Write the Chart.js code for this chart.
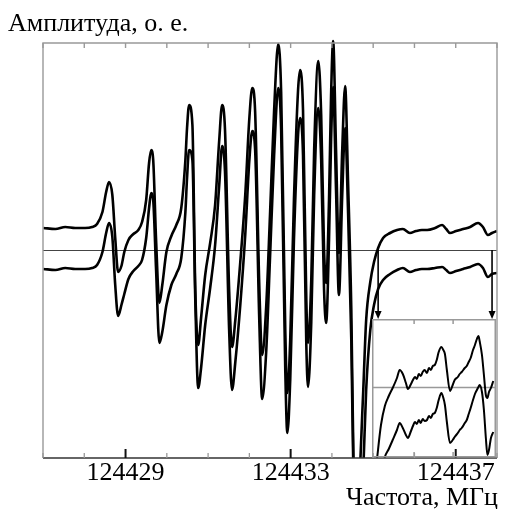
<!DOCTYPE html>
<html>
<head>
<meta charset="utf-8">
<script src="https://cdn.jsdelivr.net/npm/chart.js@4.4.0/dist/chart.umd.min.js"></script>
<style>
  body { margin: 0; background: #fff; }
  #wrap { position: relative; width: 505px; height: 509px; }
  #main { position: absolute; left: 0; top: 0; }
  #inset { position: absolute; left: 372px; top: 319px; }
</style>
</head>
<body>
<div id="wrap">
  <canvas id="main" width="505" height="509"></canvas>
  <canvas id="inset" width="124" height="139"></canvas>
</div>
<script>
// частота, МГц
const freq = [
  124427.01, 124427.30, 124427.54, 124427.78, 124428.02, 124428.19, 124428.31, 124428.44, 124428.53, 124428.60,
  124428.68, 124428.75, 124428.82, 124428.90, 124428.97, 124429.07, 124429.19, 124429.31, 124429.40, 124429.50,
  124429.57, 124429.62, 124429.67, 124429.74, 124429.82, 124429.89, 124429.99, 124430.11, 124430.23, 124430.35,
  124430.45, 124430.49, 124430.54, 124430.62, 124430.69, 124430.76, 124430.83, 124430.93, 124431.05, 124431.17,
  124431.27, 124431.34, 124431.41, 124431.51, 124431.58, 124431.66, 124431.78, 124431.90, 124432.00, 124432.07,
  124432.14, 124432.24, 124432.31, 124432.41, 124432.50, 124432.60, 124432.70, 124432.77, 124432.87, 124432.92,
  124432.99, 124433.08, 124433.18, 124433.23, 124433.30, 124433.38, 124433.42, 124433.50, 124433.57, 124433.67,
  124433.74, 124433.81, 124433.86, 124433.93, 124433.98, 124434.03, 124434.10, 124434.17, 124434.25, 124434.32,
  124434.39, 124434.47, 124434.54, 124434.61, 124434.68, 124434.76, 124434.83, 124434.93, 124435.02, 124435.12,
  124435.24, 124435.41, 124435.58, 124435.72, 124435.89, 124436.04, 124436.18, 124436.31, 124436.50, 124436.67,
  124436.77, 124436.86, 124437.01, 124437.18, 124437.35, 124437.54, 124437.66, 124437.78, 124437.88, 124438.00
];
// верхняя кривая, о. е.
const upper = [
  0.22, 0.21, 0.23, 0.22, 0.22, 0.23, 0.26, 0.38, 0.58, 0.68,
  0.55, 0.12, -0.22, -0.16, -0.02, 0.10, 0.16, 0.20, 0.28, 0.50,
  0.87, 1.00, 0.90, 0.10, -0.53, -0.35, -0.02, 0.14, 0.25, 0.42,
  0.90, 1.22, 1.45, 1.25, -0.40, -0.95, -0.68, -0.25, 0.07, 0.45,
  1.10, 1.45, 1.20, -0.40, -0.97, -0.70, -0.12, 0.55, 1.32, 1.62,
  1.38, -0.35, -1.05, -0.55, 0.35, 1.40, 2.06, 1.58, -0.80, -1.43,
  -0.90, 0.50, 1.60, 1.80, 1.40, -0.50, -0.93, -0.30, 1.00, 1.89,
  1.35, 0.00, -0.33, 0.50, 1.55, 2.09, 1.00, -0.03, 1.00, 1.64,
  0.70, -0.60, -2.60, -3.10, -2.20, -1.40, -0.70, -0.32, -0.12, 0.02,
  0.12, 0.17, 0.20, 0.21, 0.17, 0.19, 0.20, 0.20, 0.22, 0.25,
  0.21, 0.17, 0.19, 0.21, 0.23, 0.27, 0.23, 0.15, 0.17, 0.19
];
// нижняя кривая, о. е.
const lower = [
  -0.19, -0.20, -0.18, -0.19, -0.19, -0.18, -0.15, -0.02, 0.17, 0.27,
  0.13, -0.35, -0.66, -0.55, -0.44, -0.29, -0.21, -0.16, -0.10, 0.12,
  0.42, 0.57, 0.50, -0.20, -0.93, -0.82, -0.55, -0.35, -0.24, -0.08,
  0.38, 0.72, 1.00, 0.90, -0.50, -1.38, -1.18, -0.75, -0.38, 0.05,
  0.65, 1.04, 0.78, -0.80, -1.40, -1.12, -0.55, 0.15, 0.90, 1.19,
  1.00, -0.70, -1.49, -1.00, -0.08, 0.95, 1.62, 1.20, -1.20, -1.83,
  -1.30, 0.10, 1.15, 1.32, 0.95, -0.95, -1.37, -0.72, 0.55, 1.42,
  0.90, -0.40, -0.73, 0.10, 1.10, 1.63, 0.60, -0.45, 0.55, 1.22,
  0.40, -0.90, -2.70, -3.10, -2.90, -2.20, -1.40, -0.80, -0.55, -0.39,
  -0.30, -0.24, -0.20, -0.18, -0.22, -0.20, -0.19, -0.19, -0.18, -0.17,
  -0.20, -0.23, -0.21, -0.19, -0.17, -0.14, -0.18, -0.27, -0.24, -0.23
];
const xTickLabels = [124429, 124433, 124437];
const xMinorTicks = [124427, 124428, 124429, 124430, 124431, 124432, 124433, 124434, 124435, 124436, 124437, 124438];
const arrowFreqs = [124435.12, 124437.88];

// вставка: увеличенный участок
const insetFreq = [
  124435.04, 124435.15, 124435.25, 124435.35, 124435.45, 124435.56, 124435.63, 124435.71, 124435.79, 124435.84,
  124435.92, 124435.97, 124436.02, 124436.07, 124436.12, 124436.17, 124436.22, 124436.27, 124436.33, 124436.38,
  124436.43, 124436.48, 124436.53, 124436.58, 124436.63, 124436.70, 124436.75, 124436.79, 124436.84, 124436.92,
  124436.99, 124437.04, 124437.12, 124437.17, 124437.22, 124437.30, 124437.35, 124437.40, 124437.45, 124437.51,
  124437.56, 124437.61, 124437.65, 124437.68, 124437.74, 124437.79, 124437.84, 124437.88, 124437.92, 124437.97,
  124438.03
];
const insetUpper = [
  -0.75, -0.38, -0.19, -0.09, -0.01, 0.09, 0.17, 0.13, 0.04, -0.02,
  0.03, 0.07, 0.10, 0.08, 0.13, 0.11, 0.15, 0.17, 0.14, 0.19,
  0.17, 0.21, 0.22, 0.27, 0.35, 0.40, 0.37, 0.33, 0.17, -0.04,
  0.02, 0.07, 0.10, 0.13, 0.15, 0.19, 0.21, 0.25, 0.29, 0.37,
  0.42, 0.48, 0.51, 0.46, 0.32, 0.12, -0.08, -0.11, -0.05, -0.01,
  0.06
];
const insetLower = [
  -1.08, -0.88, -0.70, -0.62, -0.53, -0.43, -0.36, -0.41, -0.48, -0.51,
  -0.44, -0.39, -0.35, -0.37, -0.33, -0.36, -0.32, -0.34, -0.33, -0.29,
  -0.31, -0.27, -0.26, -0.21, -0.13, -0.06, -0.11, -0.18, -0.35, -0.56,
  -0.53, -0.50, -0.46, -0.43, -0.41, -0.36, -0.33, -0.27, -0.21, -0.13,
  -0.07, -0.03, 0.00, 0.02, -0.05, -0.23, -0.51, -0.68, -0.63, -0.51,
  -0.45
];
const insetTicks = [124436, 124437];

const SERIF = '"Liberation Serif", "DejaVu Serif", serif';

function lineDs(xs, ys, width) {
  return {
    data: xs.map((f, i) => ({ x: f, y: ys[i] })),
    borderColor: '#000',
    borderWidth: width,
    pointRadius: 0,
    cubicInterpolationMode: 'monotone',
    clip: { left: 0, top: 4, right: 0, bottom: 0 }
  };
}

// рамка, нулевая линия, штрихи, стрелки и подписи осей
const mainDecor = {
  id: 'mainDecor',
  beforeDatasetsDraw(chart) {
    const { ctx, chartArea: a, scales: { y } } = chart;
    const y0 = Math.round(y.getPixelForValue(0)) + 0.5;
    ctx.save();
    ctx.strokeStyle = '#444';
    ctx.lineWidth = 1;
    ctx.beginPath();
    ctx.moveTo(a.left, y0);
    ctx.lineTo(a.right, y0);
    ctx.stroke();
    ctx.restore();
  },
  afterDatasetsDraw(chart) {
    const { ctx, chartArea: a, scales: { x, y } } = chart;
    ctx.save();
    // рамка
    ctx.strokeStyle = '#999';
    ctx.lineWidth = 1.4;
    ctx.beginPath();
    ctx.moveTo(a.left, a.bottom);
    ctx.lineTo(a.left, a.top);
    ctx.lineTo(a.right, a.top);
    ctx.lineTo(a.right, a.bottom);
    ctx.stroke();
    xMinorTicks.forEach(v => {
      const px = x.getPixelForValue(v);
      ctx.beginPath();
      ctx.moveTo(px, a.top);
      ctx.lineTo(px, a.top + 5);
      ctx.stroke();
    });
    ctx.strokeStyle = '#333';
    ctx.lineWidth = 1.4;
    ctx.beginPath();
    ctx.moveTo(a.left, a.bottom);
    ctx.lineTo(a.right, a.bottom);
    ctx.stroke();
    xMinorTicks.forEach(v => {
      const px = x.getPixelForValue(v);
      const major = xTickLabels.includes(v);
      ctx.strokeStyle = major ? '#111' : '#999';
      ctx.lineWidth = major ? 2 : 1.3;
      ctx.beginPath();
      ctx.moveTo(px, a.bottom);
      ctx.lineTo(px, a.bottom - (major ? 9 : 5));
      ctx.stroke();
    });
    // стрелки к вставке
    const yFrom = y.getPixelForValue(0);
    const yTo = y.getPixelForValue(-0.69);
    ctx.strokeStyle = '#000';
    ctx.fillStyle = '#000';
    ctx.lineWidth = 1.6;
    arrowFreqs.forEach(f => {
      const px = x.getPixelForValue(f);
      ctx.beginPath();
      ctx.moveTo(px, yFrom);
      ctx.lineTo(px, yTo - 6);
      ctx.stroke();
      ctx.beginPath();
      ctx.moveTo(px - 3.5, yTo - 8);
      ctx.lineTo(px + 3.5, yTo - 8);
      ctx.lineTo(px, yTo);
      ctx.closePath();
      ctx.fill();
    });
    ctx.restore();
  },
  afterDraw(chart) {
    const { ctx } = chart;
    ctx.save();
    ctx.fillStyle = '#000';
    ctx.textBaseline = 'alphabetic';
    ctx.font = '26px ' + SERIF;
    ctx.textAlign = 'left';
    ctx.fillText('Амплитуда, о. е.', 8, 31);
    ctx.font = '26px ' + SERIF;
    ctx.textAlign = 'right';
    ctx.fillText('Частота, МГц', 498, 505);
    ctx.restore();
  }
};

new Chart(document.getElementById('main'), {
  type: 'line',
  data: { datasets: [lineDs(freq, upper, 2.6), lineDs(freq, lower, 2.6)] },
  options: {
    responsive: false,
    animation: false,
    layout: { padding: { left: 43, right: 8, top: 43, bottom: 0 } },
    plugins: { legend: { display: false }, tooltip: { enabled: false } },
    scales: {
      x: {
        type: 'linear',
        min: 124427,
        max: 124438,
        afterBuildTicks: s => { s.ticks = xTickLabels.map(v => ({ value: v })); },
        afterFit: s => { s.height = 51; },
        grid: { display: false, drawTicks: false },
        border: { display: false },
        ticks: {
          padding: 0,
          color: '#000',
          font: { family: SERIF, size: 26 },
          callback: v => String(v),
          maxRotation: 0
        }
      },
      y: { display: false, min: -2.08, max: 2.07 }
    }
  },
  plugins: [mainDecor]
});

const insetDecor = {
  id: 'insetDecor',
  beforeDatasetsDraw(chart) {
    const { ctx, chartArea: a, scales: { y } } = chart;
    const y0 = Math.round(y.getPixelForValue(0)) + 0.5;
    ctx.save();
    ctx.strokeStyle = '#999';
    ctx.lineWidth = 1.4;
    ctx.beginPath();
    ctx.moveTo(a.left, y0);
    ctx.lineTo(a.right, y0);
    ctx.stroke();
    ctx.restore();
  },
  afterDatasetsDraw(chart) {
    const { ctx, chartArea: a, scales: { x } } = chart;
    ctx.save();
    ctx.strokeStyle = '#999';
    ctx.lineWidth = 1.5;
    ctx.strokeRect(a.left + 0.75, a.top + 0.75, a.right - a.left - 1.5, a.bottom - a.top - 2);
    insetTicks.forEach(v => {
      const px = x.getPixelForValue(v);
      ctx.beginPath();
      ctx.moveTo(px, a.top);
      ctx.lineTo(px, a.top + 5);
      ctx.moveTo(px, a.bottom - 1);
      ctx.lineTo(px, a.bottom - 6);
      ctx.stroke();
    });
    ctx.restore();
  }
};

new Chart(document.getElementById('inset'), {
  type: 'line',
  data: { datasets: [lineDs(insetFreq, insetUpper, 2), lineDs(insetFreq, insetLower, 2)] },
  options: {
    responsive: false,
    animation: false,
    layout: { padding: 0 },
    plugins: { legend: { display: false }, tooltip: { enabled: false } },
    scales: {
      x: { type: 'linear', display: false, min: 124434.92, max: 124438.1 },
      y: { display: false, min: -0.71, max: 0.68 }
    }
  },
  plugins: [insetDecor]
});
</script>
</body>
</html>
